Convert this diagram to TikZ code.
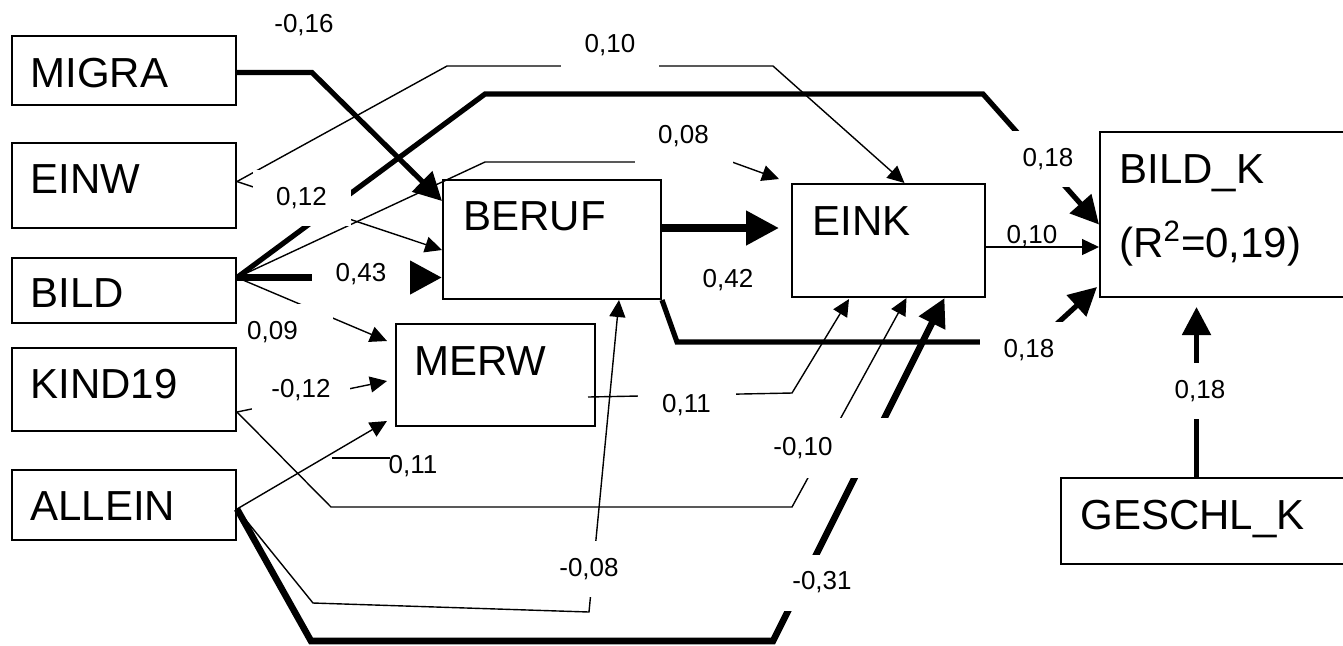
\documentclass[tikz,border=0pt]{standalone}
\usepackage{fontspec}
\setmainfont{Liberation Sans}
\usetikzlibrary{arrows.meta,calc}
\begin{document}
\begin{tikzpicture}[x=0.5pt, y=-0.5pt,
  box/.style={draw, line width=1pt, inner sep=0pt},
  btxt/.style={anchor=base west, inner sep=0pt, font=\fontsize{21}{25}\selectfont},
  lbl/.style={inner sep=0pt, minimum width=49pt, minimum height=28pt, font=\fontsize{13}{15}\selectfont},
  lblw/.style={lbl, fill=white},
  mask/.style={fill=white},
  thn/.style={line width=0.7pt, -{Triangle[length=8.5pt,width=8pt]}},
  thk/.style={line width=2.6pt, -{Triangle[length=14pt,width=14pt]}},
  mid/.style={line width=3.3pt, -{Triangle[length=14pt,width=14pt]}},
  hvy/.style={line width=3.8pt, -{Triangle[length=16.5pt,width=16.5pt]}}]

\useasboundingbox (0,0) rectangle (1343,645);
\fill[white] (0,0) rectangle (1343,645);
\clip (0,0) rectangle (1343,645);

% variable boxes
\node[box, minimum width=112pt, minimum height=34.5pt] (migra) at (124,70.5) {};
\node[box, minimum width=112pt, minimum height=42.5pt] (einw) at (124,185.5) {};
\node[box, minimum width=112pt, minimum height=32.5pt] (bild) at (124,290.5) {};
\node[box, minimum width=112pt, minimum height=41.5pt] (kind) at (124,389.5) {};
\node[box, minimum width=112pt, minimum height=35pt] (allein) at (124,505) {};
\node[box, minimum width=109pt, minimum height=59.5pt] (beruf) at (552,239.5) {};
\node[box, minimum width=99.5pt, minimum height=51pt] (merw) at (495.5,375) {};
\node[box, minimum width=96.5pt, minimum height=56.5pt] (eink) at (888.5,240.5) {};
\node[box, minimum width=170pt, minimum height=82.5pt] (bildk) at (1270,214.5) {};
\node[box, minimum width=189.5pt, minimum height=43pt] (geschl) at (1250.5,521) {};

% box captions
\node[btxt] (tmigra) at (30,87) {MIGRA};
\node[btxt] (teinw) at (30,193) {EINW};
\node[btxt] (tbild) at (30,307) {BILD};
\node[btxt] (tkind) at (30,398) {KIND19};
\node[btxt] (tallein) at (30,520) {ALLEIN};
\node[btxt] (tberuf) at (463,230) {BERUF};
\node[btxt] (tmerw) at (414,375) {MERW};
\node[btxt] (teink) at (812,235) {EINK};
\node[btxt] (tbildk) at (1119,183) {BILD\_K};
\node[btxt] (tr2) at (1119,257) {(R\textsuperscript{2}=0,19)};
\node[btxt] (tgeschl) at (1080,529) {GESCHL\_K};

% connector start points
\coordinate (migraout) at ([yshift=-1pt]migra.east);
\coordinate (einwout) at ([yshift=2pt]einw.east);
\coordinate (bildout) at ([yshift=6.5pt]bild.east);
\coordinate (kindout) at ([yshift=-11.25pt]kind.east);
\coordinate (alleinout) at ([yshift=-2pt]allein.east);
\coordinate (berufout) at ([yshift=5.75pt]beruf.east);
\coordinate (einkout) at ([yshift=-3.25pt]eink.east);
\coordinate (merwout) at ([xshift=-4pt,yshift=-11pt]merw.east);
\coordinate (geschlout) at ([xshift=-27pt]geschl.north);

% paths
\draw[thk] (migraout) -- (312,72.5) -- ([yshift=-11pt]beruf.north west);
\draw[thn] (einwout) -- (447,66) -- (773,66) -- ([xshift=8pt]eink.north);
\draw[thn] (einwout) -- ([yshift=-5.25pt]beruf.west);
\draw[thk] (bildout) -- (485,94) -- (983,94) -- ([yshift=-5pt]bildk.west);
\draw[hvy] (bildout) -- (bildout -| beruf.west);
\draw[thn] (bildout) -- (485,162) -- (732,162) -- ([xshift=-6pt,yshift=2pt]eink.north west);
\draw[thn] (bildout) -- ([xshift=-4pt,yshift=-9pt]merw.north west);
\draw[thn] (kindout) -- ([xshift=-4pt,yshift=-3pt]merw.west);
\draw[thn] (kindout) -- (331,507) -- (792,507) -- ([xshift=9pt]eink.south);
\draw[thn] (alleinout) -- ([xshift=-4pt,yshift=3pt]merw.south west);
\draw[thn] (alleinout) -- (313,603) -- (589,612) -- ([xshift=33.5pt]beruf.south);
\draw[mid] (alleinout) -- (311,641) -- (773,641) -- ([xshift=28pt]eink.south);
\draw[hvy] (berufout) -- ([xshift=-6pt,yshift=6.25pt]eink.west);
\draw[thk] (beruf.south east) -- (677,342) -- (1037,342) -- ([xshift=-1pt,yshift=5.5pt]bildk.south west);
\draw[thn] (einkout) -- (einkout -| bildk.west);
\draw[thk] (geschlout) -- ($(geschlout |- bildk.south)+(0,9)$);
\draw[thn] (merwout) -- (792,393) -- ([xshift=29pt,yshift=-0.5pt]eink.south west);
\draw[line width=0.7pt] (332,458) -- (390,458);

% coefficients
\fill[mask] (238,304) rectangle (333,346);
\fill[mask] (770,418) rectangle (898,478);
\node[lbl] (c1) at (304,25.5) {-0,16};
\node[lblw] (c2) at (610,45) {0,10};
\node[lblw] (c3) at (683.5,136) {0,08};
\node[lblw] (c4) at (301.5,198) {0,12};
\node[lblw] (c5) at (361,274) {0,43};
\node[lbl] (c6) at (272.5,332.5) {0,09};
\node[lblw] (c7) at (301,390) {-0,12};
\node[lbl] (c8) at (413,466) {0,11};
\node[lbl] (c9) at (728,280) {0,42};
\node[lblw] (c10) at (686.5,405) {0,11};
\node[lbl] (c11) at (803,448) {-0,10};
\node[lblw] (c12) at (822,582.5) {-0,31};
\node[lblw] (c13) at (589,569) {-0,08};
\node[lblw] (c14) at (1048,159) {0,18};
\node[lbl] (c15) at (1032,236) {0,10};
\node[lblw] (c16) at (1029,350) {0,18};
\node[lblw] (c17) at (1200,391) {0,18};
\end{tikzpicture}
\end{document}
